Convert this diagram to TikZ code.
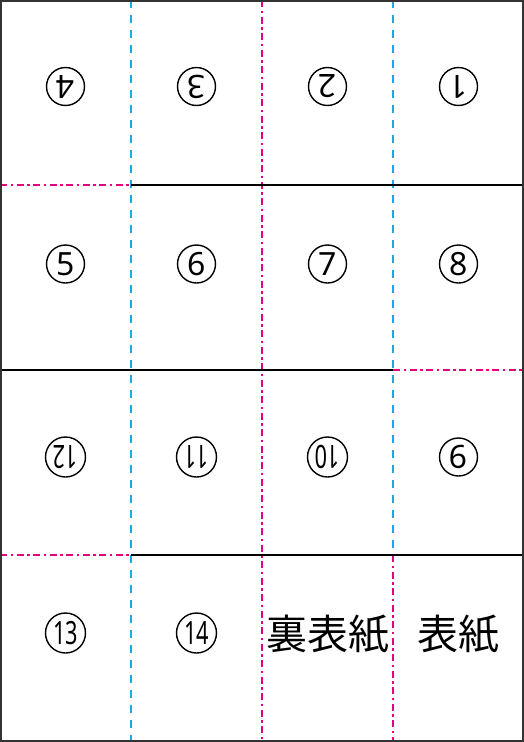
\documentclass[tikz,border=0pt]{standalone}
\usepackage{fontspec}
\setmainfont{Noto Sans}
\newfontfamily\jpfont{Noto Sans CJK JP}
\definecolor{cutmag}{HTML}{E4007F}
\definecolor{foldblue}{HTML}{1EA7E1}
\begin{document}
\begin{tikzpicture}[x=1pt,y=-1pt,
  blueline/.style={foldblue, line width=2.8pt, dash pattern=on 8pt off 7pt},
  magline/.style={cutmag, line width=2.8pt, dash pattern=on 7pt off 3.5pt on 2.5pt off 3.5pt},
  solidline/.style={black, line width=2.8pt},
  num/.style={circle, draw, line width=1.4pt, minimum size=38pt, inner sep=0pt,
    font=\fontsize{32}{32}\selectfont},
  twonum/.style={num, minimum size=40pt},
  jp/.style={inner sep=0pt, font=\jpfont\fontsize{41}{41}\selectfont}]
\useasboundingbox (0,0) rectangle (524,742);
\fill[white] (0,0) rectangle (524,742);
% fold / cut lines
\coordinate (v1t) at (131,0); \coordinate (v1b) at (131,742);
\coordinate (v2t) at (262,0); \coordinate (v2b) at (262,742);
\coordinate (v3t) at (393,0); \coordinate (v3m) at (393,555); \coordinate (v3b) at (393,742);
\draw[blueline] (v1t) -- (v1b);
\draw[magline] (v2t) -- (v2b);
\draw[blueline] (v3t) -- (v3m);
\draw[magline] (v3m) -- (v3b);
% horizontal lines
\coordinate (h1l) at (0,185); \coordinate (h1m) at (131,185); \coordinate (h1r) at (524,185);
\coordinate (h2l) at (0,370); \coordinate (h2m) at (393,370); \coordinate (h2r) at (524,370);
\coordinate (h3l) at (0,555); \coordinate (h3m) at (131,555); \coordinate (h3r) at (524,555);
\draw[magline] (h1l) -- (h1m);
\draw[solidline] (h1m) -- (h1r);
\draw[solidline] (h2l) -- (h2m);
\draw[magline] (h2m) -- (h2r);
\draw[magline] (h3l) -- (h3m);
\draw[solidline] (h3m) -- (h3r);
% outer border
\draw[line width=2.2pt, black!80] (1.1,1.1) rectangle (522.9,740.9);
% row 1 (upside down)
\node[num, rotate=180] (p4) at (65.5,86.5) {4};
\node[num, rotate=180] (p3) at (196.5,86.5) {3};
\node[num, rotate=180] (p2) at (327.5,86.5) {2};
\node[num, rotate=180] (p1) at (458.5,86.5) {1};
% row 2
\node[num] (p5) at (65.5,264) {5};
\node[num] (p6) at (196.5,264) {6};
\node[num] (p7) at (327.5,264) {7};
\node[num] (p8) at (458.5,264) {8};
% row 3 (upside down)
\node[twonum, rotate=180] (p12) at (65.5,457) {\scalebox{0.68}[1]{12}};
\node[twonum, rotate=180] (p11) at (196.5,457) {\scalebox{0.68}[1]{11}};
\node[twonum, rotate=180] (p10) at (327.5,457) {\scalebox{0.68}[1]{10}};
\node[num, rotate=180] (p9) at (458.5,457) {9};
% row 4
\node[twonum] (p13) at (65.5,633) {\scalebox{0.68}[1]{13}};
\node[twonum] (p14) at (196.5,633) {\scalebox{0.68}[1]{14}};
\node[jp] (ura) at (327.5,634) {裏表紙};
\node[jp] (omote) at (458.5,634) {表紙};
\end{tikzpicture}
\end{document}
